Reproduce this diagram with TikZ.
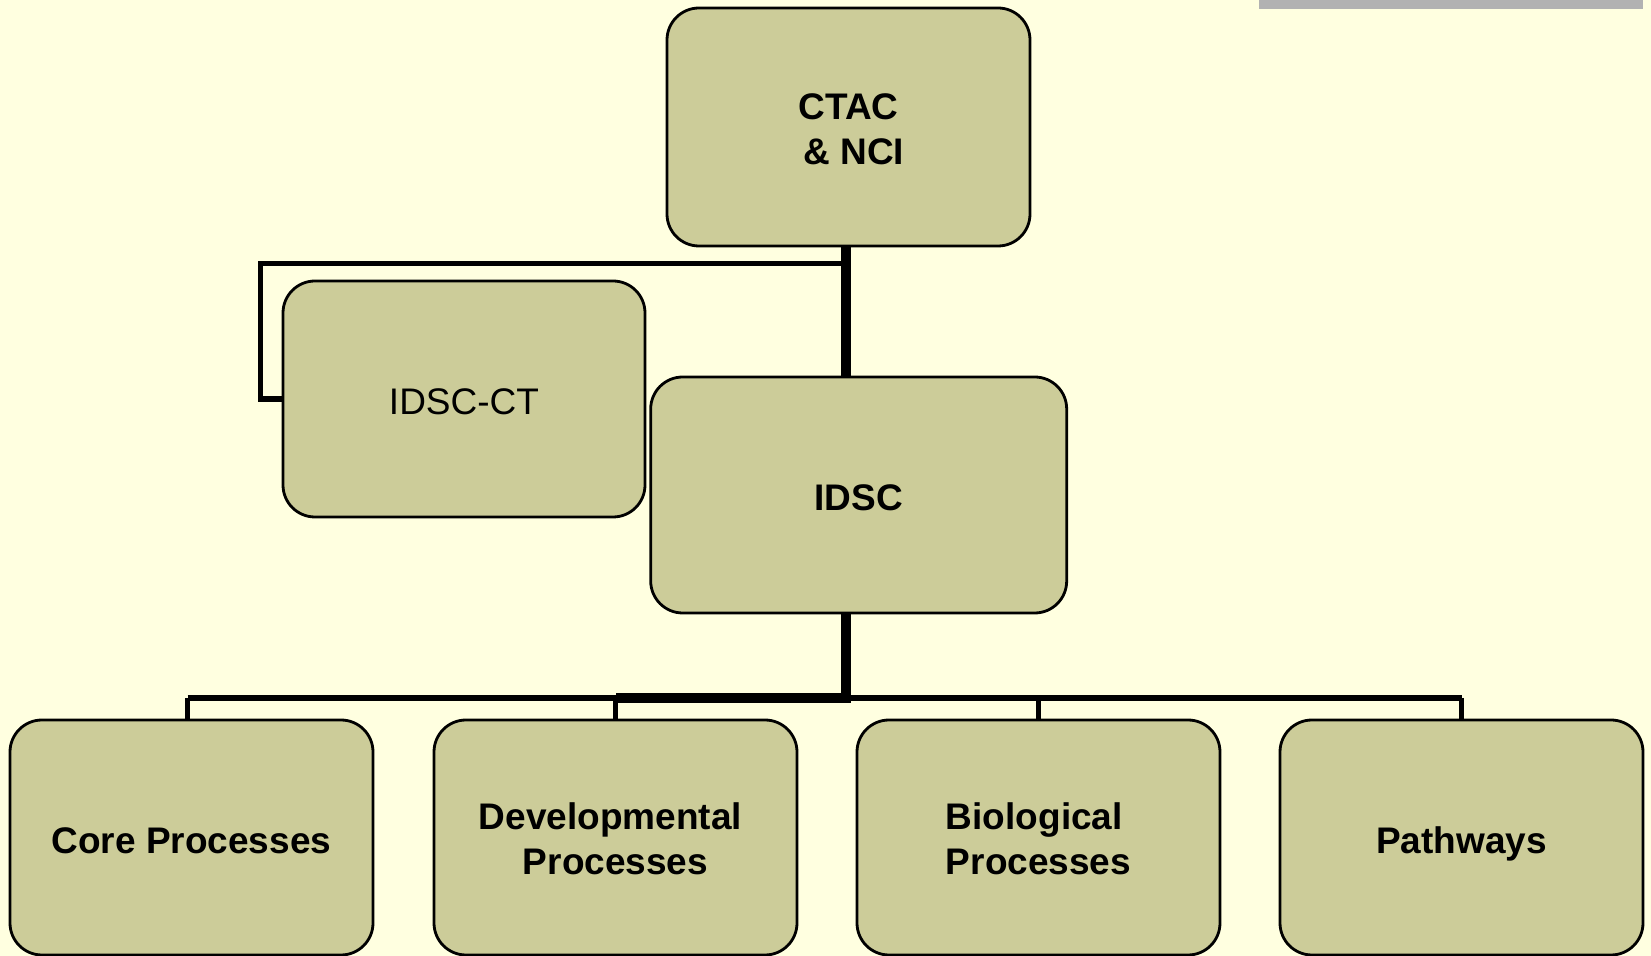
\documentclass[tikz,border=0pt]{standalone}
\usepackage{fontspec}
\setmainfont{Liberation Sans}
\definecolor{bg}{RGB}{255,255,224}
\definecolor{boxfill}{RGB}{204,204,153}
\definecolor{barcol}{RGB}{178,178,178}
\begin{document}
\begin{tikzpicture}[x=0.5pt,y=-0.5pt,
  box/.style={draw=black, line width=1.4pt, fill=boxfill, rounded corners=16pt,
    inner sep=0pt, align=center, font=\fontsize{18.5}{22.5}\selectfont\bfseries},
  boxreg/.style={box, font=\fontsize{18.5}{22.5}\selectfont},
  oneline/.style={text height=16pt, text depth=0pt},
  twoline/.style={text height=37.4pt, text depth=0pt},
  topbox/.style={minimum width=181.5pt, minimum height=119pt},
  midbox/.style={minimum width=181pt, minimum height=118pt},
  idscbox/.style={minimum width=208pt, minimum height=118pt},
  leafbox/.style={minimum width=181.5pt, minimum height=117.5pt},
  trunkline/.style={line width=4.75pt},
  branch/.style={line width=2.75pt},
]
\fill[bg] (0,0) rectangle (1651,956);
\useasboundingbox (0,0) rectangle (1651,956);
\fill[barcol] (1259,0) rectangle (1643,8.7);

\coordinate (trunk) at (846,0);
\coordinate (bus) at (0,698);
\coordinate (jct) at (0,263.5);
\coordinate (leftx) at (260.5,0);

\node[box, topbox, twoline] (ctac) at (848.5,127) {CTAC\\\hspace*{0.28em}\& NCI};
\node[boxreg, midbox, oneline] (idscct) at (464,399) {IDSC-CT};
\node[box, idscbox, oneline] (idsc) at (858.7,495) {IDSC};
\node[box, leafbox, oneline] (core) at (191.5,837.5) {Core Processes};
\node[box, leafbox, twoline] (dev) at (615.5,837.5) {Developmental\hspace*{0.28em}\\Processes};
\node[box, leafbox, twoline, align=left] (bio) at (1038.5,837.5) {Biological\\Processes};
\node[box, leafbox, oneline] (path) at (1461.5,837.5) {Pathways};

% top connectors
\draw[trunkline] (ctac.south -| trunk) -- (idsc.north -| trunk);
\draw[branch] (trunk |- jct) -- (leftx |- jct) -- (leftx |- idscct.west) -- (idscct.west);

% bottom connectors
\draw[branch] (bus -| core.north) ++(-4,0) coordinate (cb) -- (bus -| path.north);
\draw[branch] (cb) -- (cb |- core.north);
\draw[branch] (bus -| dev.north) -- (dev.north);
\draw[branch] (bus -| bio.north) -- (bio.north);
\draw[branch] (bus -| path.north) -- (path.north);
\draw[trunkline] (idsc.south -| trunk) -- (trunk |- bus) -- (bus -| dev.north);
\end{tikzpicture}
\end{document}
